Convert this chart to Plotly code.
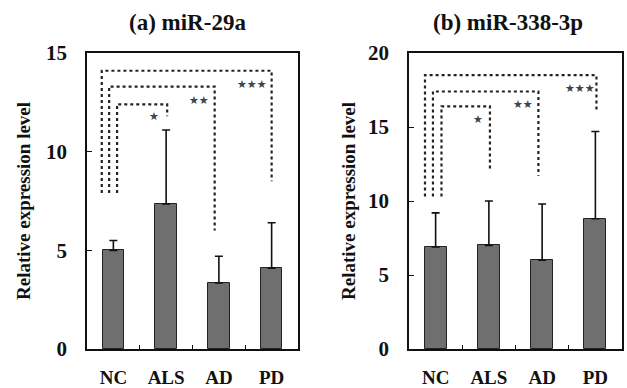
import plotly.graph_objects as go

categories = ["NC", "ALS", "AD", "PD"]
titles = ["(a) miR-29a", "(b) miR-338-3p"]

mir29a_mean = [5.0, 7.35, 3.35, 4.1]
mir29a_sd = [0.5, 3.75, 1.35, 2.3]
mir338_mean = [6.9, 7.0, 6.0, 8.8]
mir338_sd = [2.3, 3.0, 3.8, 5.9]

y_max = [15, 20]
y_ticks = [[0, 5, 10, 15], [0, 5, 10, 15, 20]]

# significance brackets: (target group index, top height, drop end height, label)
mir29a_sig = [(1, 12.4, 11.8, "★"), (2, 13.3, 6.0, "★★"), (3, 14.1, 8.5, "★★★")]
mir338_sig = [(1, 16.4, 12.1, "★"), (2, 17.4, 11.7, "★★"), (3, 18.5, 16.0, "★★★")]
mir29a_sig_base = 7.9
mir338_sig_base = 10.3
mir29a_star_y = [11.8, 12.6, 13.4]
mir338_star_y = [15.5, 16.5, 17.6]

panels = [
    (mir29a_mean, mir29a_sd, mir29a_sig, mir29a_sig_base, mir29a_star_y),
    (mir338_mean, mir338_sd, mir338_sig, mir338_sig_base, mir338_star_y),
]

SERIF = "Liberation Serif"
xdomains = [[87 / 627, 298 / 627], [409 / 627, 622 / 627]]
left_offsets = [[0.07, -0.08, -0.22], [0.11, -0.05, -0.2]]
right_offsets = [[0.02, -0.08, 0.0], [0.02, -0.07, 0.02]]
star_offsets = [[-0.23, -0.38, -0.37], [-0.2, -0.36, -0.29]]

fig = go.Figure()
xs = list(range(len(categories)))

for p, (mean, sd, sig, base, star_y) in enumerate(panels):
    xa = "x" if p == 0 else "x2"
    ya = "y" if p == 0 else "y2"
    fig.add_trace(go.Bar(
        x=xs, y=mean, width=0.41,
        marker=dict(color="#6f6f6f", line=dict(color="#222222", width=1)),
        error_y=dict(type="data", array=sd, arrayminus=[0] * len(sd), symmetric=False,
                     color="#111111", thickness=1.6, width=4),
        xaxis=xa, yaxis=ya, showlegend=False,
    ))
    for i, (tgt, top, end, label) in enumerate(sig):
        xl = 0 + left_offsets[p][i]
        xr = tgt + right_offsets[p][i]
        fig.add_trace(go.Scatter(
            x=[xl, xl, xr, xr], y=[base, top, top, end], mode="lines",
            line=dict(color="#222222", width=2.2, dash="dot"),
            xaxis=xa, yaxis=ya, showlegend=False, hoverinfo="skip",
        ))
        fig.add_annotation(
            x=tgt + star_offsets[p][i], y=star_y[i], xref=xa, yref=ya,
            text=label, showarrow=False,
            font=dict(family="DejaVu Sans", size=11, color="#444444"),
        )

for p in range(2):
    sfx = "" if p == 0 else "2"
    fig.layout["xaxis" + sfx] = dict(
        domain=xdomains[p], range=[-0.5, 3.5], tickvals=xs, ticktext=categories,
        ticks="", showline=True, linecolor="#111111", linewidth=1.5, mirror=True,
        showgrid=False, zeroline=False, ticklabelstandoff=10,
        tickfont=dict(family=SERIF, size=19, color="#111111", weight="bold"),
        minor=dict(tickvals=[0.5, 1.5, 2.5], ticks="inside", ticklen=4, tickcolor="#111111"),
        anchor="y" + sfx,
    )
    fig.layout["yaxis" + sfx] = dict(
        domain=[0, 1], range=[0, y_max[p]], tickvals=y_ticks[p],
        ticks="inside", ticklen=5, tickcolor="#111111",
        showline=True, linecolor="#111111", linewidth=1.5, mirror=True,
        showgrid=False, zeroline=False, ticklabelstandoff=14,
        tickfont=dict(family=SERIF, size=21, color="#111111", weight="bold"),
        anchor="x" + sfx,
    )

title_x = [188, 508]
ylab_x = [23, 348]
for p in range(2):
    fig.add_annotation(
        x=title_x[p] / 627, y=1, xref="paper", yref="paper", yanchor="middle",
        xanchor="center", yshift=53 - 22, text="<b>" + titles[p] + "</b>", showarrow=False,
        font=dict(family=SERIF, size=23, color="#111111"),
    )
    fig.add_annotation(
        x=ylab_x[p] / 627, y=0.5, xref="paper", yref="paper",
        xanchor="center", yanchor="middle",
        text="<b>Relative expression level</b>", textangle=-90, showarrow=False,
        font=dict(family=SERIF, size=19, color="#111111"),
    )

fig.update_layout(
    width=627, height=388,
    margin=dict(l=0, r=0, t=53, b=36),
    plot_bgcolor="white", paper_bgcolor="white",
    font=dict(family=SERIF),
    bargap=0,
)

fig.write_html(
    "out.html",
    config={"displayModeBar": False},
    post_script="document.body.style.margin='0';document.body.style.overflow='hidden';",
)
